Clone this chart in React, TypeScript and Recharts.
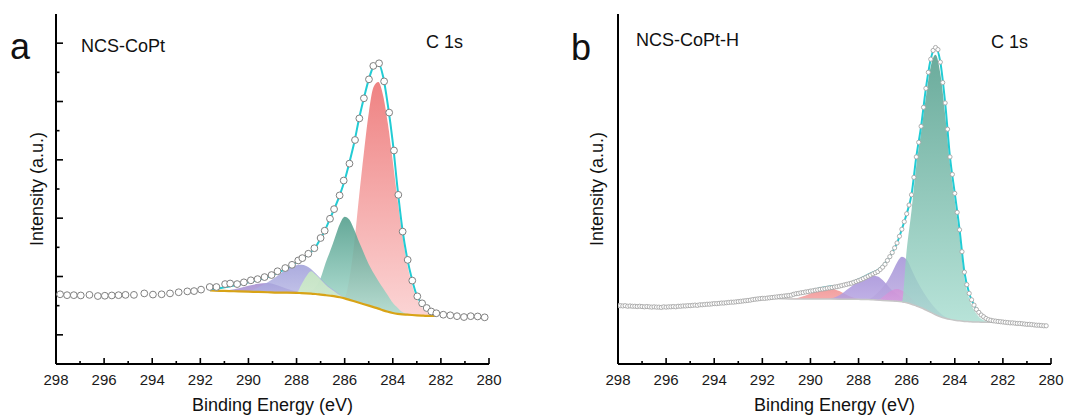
import React from 'react';
import { ComposedChart, Area, Line, Scatter, XAxis, YAxis } from 'recharts';

const FONT = '"Liberation Sans", Arial, Helvetica, sans-serif';

// ---------- shared ticks ----------
const xTicks = [298, 297, 296, 295, 294, 293, 292, 291, 290, 289, 288, 287, 286, 285, 284, 283, 282, 281, 280];
const yTicksA = [1, 2, 3, 4, 5, 6, 7, 8, 9, 10, 11];

// ---------- panel a (NCS-CoPt) ----------
const fitEA = [291.6, 291.2, 290.8, 290.4, 290.0, 289.6, 289.2, 288.8, 288.4, 288.0, 287.8, 287.6, 287.4, 287.2, 287.0, 286.8, 286.6, 286.4, 286.2, 286.0, 285.8, 285.6, 285.4, 285.2, 285.0, 284.8, 284.6, 284.4, 284.2, 284.0, 283.8, 283.6, 283.4, 283.2, 283.0, 282.8, 282.6, 282.4, 282.2];
const bgA = [2.52, 2.51, 2.50, 2.49, 2.48, 2.47, 2.46, 2.45, 2.45, 2.44, 2.43, 2.42, 2.41, 2.40, 2.38, 2.36, 2.34, 2.32, 2.29, 2.25, 2.20, 2.15, 2.10, 2.05, 2.00, 1.95, 1.90, 1.84, 1.79, 1.75, 1.72, 1.70, 1.69, 1.68, 1.67, 1.66, 1.65, 1.65, 1.65];
const envA = [2.56, 2.6, 2.66, 2.72, 2.8, 2.88, 2.98, 3.12, 3.28, 3.48, 3.58, 3.7, 3.84, 4.02, 4.3, 4.62, 5.0, 5.38, 5.8, 6.3, 6.92, 7.6, 8.42, 9.12, 9.75, 10.2, 10.3, 9.85, 8.85, 7.6, 6.0, 4.62, 3.62, 2.9, 2.35, 2.08, 1.93, 1.82, 1.75];
const redA = [null, null, null, null, null, null, null, null, null, null, null, null, null, null, null, null, null, null, null, 2.3, 2.95, 4.15, 5.75, 7.25, 8.6, 9.5, 9.67, 9.2, 8.22, 6.95, 5.62, 4.41, 3.43, 2.72, 2.24, 1.95, 1.79, 1.71, 1.66];
const greenA = [null, null, null, null, null, null, null, null, null, null, 2.43, 2.44, 2.5, 2.65, 2.95, 3.45, 3.88, 4.35, 4.8, 5.05, 4.95, 4.6, 4.18, 3.8, 3.42, 3.12, 2.85, 2.6, 2.35, 2.1, 1.93, 1.78, 1.72, 1.69, 1.67, null, null, null, null];
const lilacA = [null, 2.52, 2.54, 2.6, 2.68, 2.75, 2.78, 2.7, 2.58, 2.49, 2.45, 2.42, null, null, null, null, null, null, null, null, null, null, null, null, null, null, null, null, null, null, null, null, null, null, null, null, null, null, null];
const purpleA = [null, null, null, null, 2.5, 2.62, 2.8, 3.02, 3.27, 3.39, 3.4, 3.36, 3.26, 3.1, 2.93, 2.76, 2.62, 2.5, 2.38, 2.29, 2.21, null, null, null, null, null, null, null, null, null, null, null, null, null, null, null, null, null, null];
const paleA = [null, null, null, null, null, null, null, null, null, 2.45, 2.72, 3.0, 3.18, 3.06, 2.9, 2.73, 2.59, 2.47, 2.36, 2.28, 2.21, null, null, null, null, null, null, null, null, null, null, null, null, null, null, null, null, null, null];
const circlesA: [number, number][] = [
  [297.83, 2.39], [297.54, 2.36], [297.26, 2.36], [296.97, 2.35], [296.61, 2.37], [296.26, 2.33], [295.97, 2.34], [295.68, 2.35],
  [295.40, 2.36], [295.11, 2.37], [294.76, 2.37], [294.33, 2.42], [293.97, 2.38], [293.61, 2.39], [293.26, 2.42], [292.90, 2.46],
  [292.54, 2.49], [292.26, 2.50], [291.97, 2.55], [291.61, 2.64], [291.33, 2.64], [290.97, 2.74], [290.76, 2.76], [290.47, 2.74],
  [290.19, 2.80], [289.90, 2.87], [289.62, 2.91], [289.33, 2.98], [289.04, 3.05], [288.79, 3.18], [288.47, 3.29], [288.19, 3.40],
  [287.93, 3.55], [287.76, 3.63], [287.51, 3.78], [287.26, 3.97], [287.00, 4.32], [286.83, 4.57], [286.61, 4.98], [286.44, 5.31],
  [286.21, 5.78], [286.04, 6.29], [285.80, 6.87], [285.57, 7.68], [285.39, 8.42], [285.20, 9.11], [284.99, 9.76], [284.81, 10.22],
  [284.57, 10.31], [284.36, 9.69], [284.15, 8.62], [283.95, 7.32], [283.77, 5.80], [283.59, 4.54], [283.38, 3.57], [283.19, 2.86],
  [282.98, 2.32], [282.78, 2.08], [282.59, 1.92], [282.40, 1.80], [282.19, 1.74], [281.90, 1.69], [281.61, 1.67], [281.33, 1.64],
  [281.04, 1.61], [280.76, 1.64], [280.47, 1.63], [280.18, 1.60],
];

// ---------- panel b (NCS-CoPt-H) ----------
const fitEB = [291.6, 291.2, 290.8, 290.4, 290.0, 289.6, 289.2, 288.8, 288.4, 288.0, 287.8, 287.6, 287.4, 287.2, 287.0, 286.8, 286.6, 286.4, 286.2, 286.0, 285.8, 285.6, 285.4, 285.2, 285.0, 284.8, 284.6, 284.4, 284.2, 284.0, 283.8, 283.6, 283.4, 283.2, 283.0, 282.8, 282.6, 282.4];
const bgB = [2.25, 2.24, 2.23, 2.23, 2.23, 2.23, 2.23, 2.22, 2.22, 2.22, 2.21, 2.21, 2.20, 2.19, 2.18, 2.17, 2.16, 2.15, 2.13, 2.10, 2.05, 1.99, 1.93, 1.85, 1.77, 1.69, 1.62, 1.57, 1.53, 1.50, 1.48, 1.46, 1.45, 1.44, 1.44, 1.43, 1.43, 1.43];
const envB = [2.27, 2.31, 2.36, 2.43, 2.52, 2.6, 2.66, 2.68, 2.77, 2.9, 2.98, 3.06, 3.14, 3.22, 3.36, 3.56, 3.82, 4.15, 4.62, 5.15, 5.8, 7.1, 8.15, 9.45, 10.45, 10.85, 10.35, 8.95, 7.1, 5.85, 4.6, 3.15, 2.42, 2.02, 1.77, 1.62, 1.52, 1.48];
const greenB = [null, null, null, null, null, null, null, null, null, null, null, null, null, null, null, null, null, null, 2.14, 3.9, 5.25, 6.8, 7.95, 9.15, 10.2, 10.6, 9.95, 8.55, 6.85, 5.6, 4.35, 2.95, 2.25, 1.85, 1.62, 1.5, 1.45, 1.43];
const violetB = [null, null, null, null, null, null, null, null, null, null, null, 2.22, 2.3, 2.45, 2.62, 2.85, 3.15, 3.48, 3.68, 3.58, 3.25, 2.9, 2.6, 2.33, 2.1, 1.9, 1.74, 1.62, 1.55, 1.51, null, null, null, null, null, null, null, null];
const purpleB = [null, null, null, null, null, null, 2.24, 2.36, 2.6, 2.85, 2.95, 3.01, 3.03, 3.0, 2.88, 2.7, 2.52, 2.4, 2.28, 2.18, 2.08, 2.0, null, null, null, null, null, null, null, null, null, null, null, null, null, null, null, null];
const redB = [null, null, 2.24, 2.3, 2.42, 2.55, 2.6, 2.5, 2.33, 2.23, null, null, null, null, null, null, null, null, null, null, null, null, null, null, null, null, null, null, null, null, null, null, null, null, null, null, null, null];
const pinkB = [null, null, null, null, null, null, null, null, null, null, null, null, null, 2.2, 2.3, 2.43, 2.53, 2.57, 2.52, 2.4, 2.25, 2.08, 1.94, null, null, null, null, null, null, null, null, null, null, null, null, null, null, null];
const circlesB: [number, number][] = [
  [298.0, 2.00], [297.9, 2.00], [297.8, 1.99], [297.7, 2.00], [297.6, 1.98], [297.5, 1.99], [297.4, 1.98], [297.3, 1.98], [297.2, 1.97], [297.1, 1.98],
  [297.0, 1.97], [296.9, 1.96], [296.8, 1.97], [296.7, 1.96], [296.6, 1.95], [296.5, 1.96], [296.4, 1.95], [296.3, 1.95], [296.2, 1.94], [296.1, 1.96],
  [296.0, 1.95], [295.9, 1.96], [295.8, 1.96], [295.7, 1.97], [295.6, 1.96], [295.5, 1.98], [295.4, 1.98], [295.3, 1.99], [295.2, 1.99], [295.1, 2.00],
  [295.0, 2.00], [294.9, 2.01], [294.8, 2.02], [294.7, 2.01], [294.6, 2.03], [294.5, 2.03], [294.4, 2.04], [294.3, 2.05], [294.2, 2.05], [294.1, 2.06],
  [294.0, 2.07], [293.9, 2.07], [293.8, 2.08], [293.7, 2.09], [293.6, 2.09], [293.5, 2.10], [293.4, 2.11], [293.3, 2.12], [293.2, 2.12], [293.1, 2.13],
  [293.0, 2.14], [292.9, 2.15], [292.8, 2.16], [292.7, 2.17], [292.6, 2.18], [292.5, 2.19], [292.4, 2.21], [292.3, 2.22], [292.2, 2.23], [292.1, 2.24],
  [292.0, 2.25], [291.9, 2.25], [291.8, 2.26], [291.7, 2.27], [291.6, 2.28], [291.5, 2.29], [291.4, 2.30], [291.3, 2.31], [291.2, 2.32], [291.1, 2.33],
  [291.0, 2.34], [290.9, 2.35], [290.8, 2.36], [290.7, 2.39], [290.6, 2.41], [290.5, 2.42], [290.4, 2.44], [290.3, 2.45], [290.2, 2.47], [290.1, 2.48],
  [290.0, 2.50], [289.9, 2.51], [289.8, 2.53], [289.7, 2.54], [289.6, 2.56], [289.5, 2.57], [289.4, 2.58], [289.3, 2.60], [289.2, 2.61], [289.1, 2.62],
  [289.0, 2.64], [288.9, 2.65], [288.8, 2.67], [288.7, 2.69], [288.6, 2.71], [288.5, 2.73], [288.4, 2.75], [288.3, 2.77], [288.2, 2.80], [288.1, 2.83],
  [288.0, 2.86], [287.9, 2.89], [287.8, 2.93], [287.7, 2.97], [287.6, 3.01], [287.5, 3.05], [287.4, 3.09], [287.3, 3.13], [287.2, 3.17], [287.1, 3.24],
  [287.0, 3.32], [286.9, 3.42], [286.8, 3.55], [286.7, 3.68], [286.6, 3.82], [286.5, 3.98], [286.4, 4.15], [286.3, 4.38], [286.2, 4.62], [286.1, 4.88],
  [286.0, 5.15], [285.9, 5.45], [285.8, 5.80], [285.7, 6.40], [285.6, 7.10], [285.5, 7.60], [285.4, 8.15], [285.3, 8.80], [285.2, 9.45], [285.1, 10.00],
  [285.0, 10.45], [284.9, 10.75], [284.8, 10.85], [284.7, 10.78], [284.6, 10.35], [284.5, 9.65], [284.4, 8.95], [284.3, 8.05], [284.2, 7.10], [284.1, 6.50],
  [284.0, 5.85], [283.9, 5.20], [283.8, 4.60], [283.7, 3.85], [283.6, 3.15], [283.5, 2.72], [283.4, 2.42], [283.3, 2.20], [283.2, 2.02], [283.1, 1.87],
  [283.0, 1.77], [282.9, 1.68], [282.8, 1.62], [282.7, 1.56], [282.6, 1.52], [282.5, 1.50], [282.4, 1.48], [282.3, 1.47], [282.2, 1.46], [282.1, 1.45],
  [282.0, 1.44], [281.9, 1.43], [281.8, 1.42], [281.7, 1.41], [281.6, 1.41], [281.5, 1.40], [281.4, 1.39], [281.3, 1.39], [281.2, 1.38], [281.1, 1.37],
  [281.0, 1.36], [280.9, 1.36], [280.8, 1.35], [280.7, 1.34], [280.6, 1.33], [280.5, 1.33], [280.4, 1.32], [280.3, 1.31], [280.2, 1.31],
];

// ---------- helpers ----------
type Row = Record<string, any>;
function buildRows(E: number[], bg: number[], env: number[], peaks: Record<string, (number | null)[]>): Row[] {
  return E.map((e, i) => {
    const row: Row = { e, bg: bg[i], env: env[i] };
    Object.keys(peaks).forEach((k) => {
      const v = peaks[k][i];
      row[k] = [bg[i], v == null ? bg[i] : v];
    });
    return row;
  });
}

const rowsA = buildRows(fitEA, bgA, envA, { red: redA, green: greenA, lilac: lilacA, purple: purpleA, pale: paleA });
const rowsB = buildRows(fitEB, bgB, envB, { red: redB, purple: purpleB, violet: violetB, pink: pinkB, green: greenB });
const ptsA = circlesA.map(([e, v]) => ({ e, v }));
const ptsB = circlesB.map(([e, v]) => ({ e, v }));

const XTick = (props: any) => {
  const { x, y, payload } = props;
  const val = payload.value as number;
  const major = val % 2 === 0;
  return (
    <g>
      <line x1={x} x2={x} y1={y} y2={y - (major ? 6 : 3)} stroke="#000" strokeWidth={1.6} />
      {major ? (
        <text x={x} y={y + 21} textAnchor="middle" fontSize={15} fontFamily={FONT} fill="#1a1a1a">
          {val}
        </text>
      ) : null}
    </g>
  );
};

const YTickA = (props: any) => {
  const { x, y, payload } = props;
  const major = payload.value % 2 === 1;
  return <line x1={x} x2={x + (major ? 7 : 3.5)} y1={y} y2={y} stroke="#000" strokeWidth={1.6} />;
};

const CircleA = (p: any) => <circle cx={p.cx} cy={p.cy} r={3.4} fill="#fff" stroke="#808080" strokeWidth={1} />;
const CircleB = (p: any) => <circle cx={p.cx} cy={p.cy} r={2.1} fill="#fff" stroke="#a6a6a6" strokeWidth={0.9} />;

const AXIS = { stroke: '#000', strokeWidth: 2 };

function grad(id: string, top: string, bottom: string) {
  return (
    <linearGradient id={id} x1="0" y1="0" x2="0" y2="1">
      <stop offset="0%" stopColor={top} />
      <stop offset="100%" stopColor={bottom} />
    </linearGradient>
  );
}

function Frame(props: { yTicks: boolean; yWidth: number }) {
  return null;
}

export default function App() {
  return (
    <div style={{ position: 'absolute', left: 0, top: 0, width: 1067, height: 419, background: '#fff', fontFamily: FONT }}>
      {/* panel a */}
      <div style={{ position: 'absolute', left: 0, top: 0 }}>
        <ComposedChart width={533} height={419} data={rowsA} margin={{ top: 14, right: 44, bottom: 0, left: 0 }}>
          <defs>
            {grad('aRed', '#ee7c7c', '#fbd2d2')}
            {grad('aGreen', '#4a9986', '#acdfd2')}
            {grad('aPurple', '#9797d6', '#c6c6ec')}
            {grad('aLilac', '#a089cf', '#bfb0e0')}
            {grad('aPale', '#c9ecc0', '#d8f2d2')}
          </defs>
          <XAxis dataKey="e" type="number" domain={[280, 298]} reversed allowDataOverflow ticks={xTicks} interval={0}
            tick={XTick} tickLine={false} tickSize={0} tickMargin={0} height={55} axisLine={AXIS} />
          <XAxis xAxisId="top" orientation="top" dataKey="e" type="number" domain={[280, 298]} reversed height={0}
            tick={false} tickLine={false} axisLine={AXIS} />
          <YAxis type="number" domain={[0, 12]} allowDataOverflow ticks={yTicksA} interval={0} tick={YTickA}
            tickLine={false} tickSize={0} tickMargin={0} width={56} axisLine={AXIS} />
          <YAxis yAxisId="right" orientation="right" type="number" domain={[0, 12]} width={0} tick={false}
            tickLine={false} axisLine={AXIS} />
          <Area dataKey="red" type="monotone" stroke="none" fill="url(#aRed)" fillOpacity={0.95} dot={false} activeDot={false} isAnimationActive={false} />
          <Area dataKey="green" type="monotone" stroke="none" fill="url(#aGreen)" fillOpacity={0.85} dot={false} activeDot={false} isAnimationActive={false} />
          <Area dataKey="lilac" type="monotone" stroke="none" fill="url(#aLilac)" fillOpacity={0.85} dot={false} activeDot={false} isAnimationActive={false} />
          <Area dataKey="purple" type="monotone" stroke="none" fill="url(#aPurple)" fillOpacity={0.8} dot={false} activeDot={false} isAnimationActive={false} />
          <Area dataKey="pale" type="monotone" stroke="none" fill="url(#aPale)" fillOpacity={0.85} dot={false} activeDot={false} isAnimationActive={false} />
          <Line dataKey="bg" type="monotone" stroke="#d8a316" strokeWidth={2.2} dot={false} activeDot={false} isAnimationActive={false} />
          <Line dataKey="env" type="monotone" stroke="#22ccd4" strokeWidth={2} dot={false} activeDot={false} isAnimationActive={false} />
          <Scatter data={ptsA} dataKey="v" shape={CircleA} isAnimationActive={false} />
        </ComposedChart>
      </div>

      {/* panel b */}
      <div style={{ position: 'absolute', left: 533, top: 0 }}>
        <ComposedChart width={534} height={419} data={rowsB} margin={{ top: 14, right: 16, bottom: 0, left: 0 }}>
          <defs>
            {grad('bGreen', '#4a9986', '#a8ddd0')}
            {grad('bViolet', '#a190d6', '#c7b4e4')}
            {grad('bPurple', '#a48fd8', '#c4b4ea')}
            {grad('bRed', '#f19494', '#f8c0c0')}
            {grad('bPink', '#d68cd6', '#e6b4e6')}
          </defs>
          <XAxis dataKey="e" type="number" domain={[280, 298]} reversed allowDataOverflow ticks={xTicks} interval={0}
            tick={XTick} tickLine={false} tickSize={0} tickMargin={0} height={55} axisLine={AXIS} />
          <XAxis xAxisId="top" orientation="top" dataKey="e" type="number" domain={[280, 298]} reversed height={0}
            tick={false} tickLine={false} axisLine={AXIS} />
          <YAxis type="number" domain={[0, 12]} allowDataOverflow tick={false} tickLine={false} width={85} axisLine={AXIS} />
          <YAxis yAxisId="right" orientation="right" type="number" domain={[0, 12]} width={0} tick={false}
            tickLine={false} axisLine={AXIS} />
          <Area dataKey="red" type="monotone" stroke="none" fill="url(#bRed)" fillOpacity={0.9} dot={false} activeDot={false} isAnimationActive={false} />
          <Area dataKey="purple" type="monotone" stroke="none" fill="url(#bPurple)" fillOpacity={0.85} dot={false} activeDot={false} isAnimationActive={false} />
          <Area dataKey="violet" type="monotone" stroke="none" fill="url(#bViolet)" fillOpacity={0.85} dot={false} activeDot={false} isAnimationActive={false} />
          <Area dataKey="pink" type="monotone" stroke="none" fill="url(#bPink)" fillOpacity={0.7} dot={false} activeDot={false} isAnimationActive={false} />
          <Area dataKey="green" type="monotone" stroke="none" fill="url(#bGreen)" fillOpacity={0.82} dot={false} activeDot={false} isAnimationActive={false} />
          <Line dataKey="bg" type="monotone" stroke="#c6c6c6" strokeWidth={1.5} dot={false} activeDot={false} isAnimationActive={false} />
          <Line dataKey="env" type="monotone" stroke="#22ccd4" strokeWidth={2} dot={false} activeDot={false} isAnimationActive={false} />
          <Scatter data={ptsB} dataKey="v" shape={CircleB} isAnimationActive={false} />
        </ComposedChart>
      </div>

      {/* text annotations */}
      <svg width={1067} height={419} style={{ position: 'absolute', left: 0, top: 0, pointerEvents: 'none' }}>
        <g fontFamily={FONT} fill="#111">
          <text x={10} y={59} fontSize={36}>a</text>
          <text x={571} y={59.5} fontSize={36}>b</text>
          <text x={81} y={51.5} fontSize={18}>NCS-CoPt</text>
          <text x={463} y={48.3} fontSize={18} textAnchor="end">C 1s</text>
          <text x={636} y={45.5} fontSize={18}>NCS-CoPt-H</text>
          <text x={1028} y={48.3} fontSize={18} textAnchor="end">C 1s</text>
          <text x={272.5} y={410.5} fontSize={18} textAnchor="middle">Binding Energy (eV)</text>
          <text x={834.5} y={410.5} fontSize={18} textAnchor="middle">Binding Energy (eV)</text>
          <text x={42.5} y={189} fontSize={18} textAnchor="middle" transform="rotate(-90 42.5 189)">Intensity (a.u.)</text>
          <text x={603} y={189} fontSize={18} textAnchor="middle" transform="rotate(-90 603 189)">Intensity (a.u.)</text>
        </g>
      </svg>
    </div>
  );
}
